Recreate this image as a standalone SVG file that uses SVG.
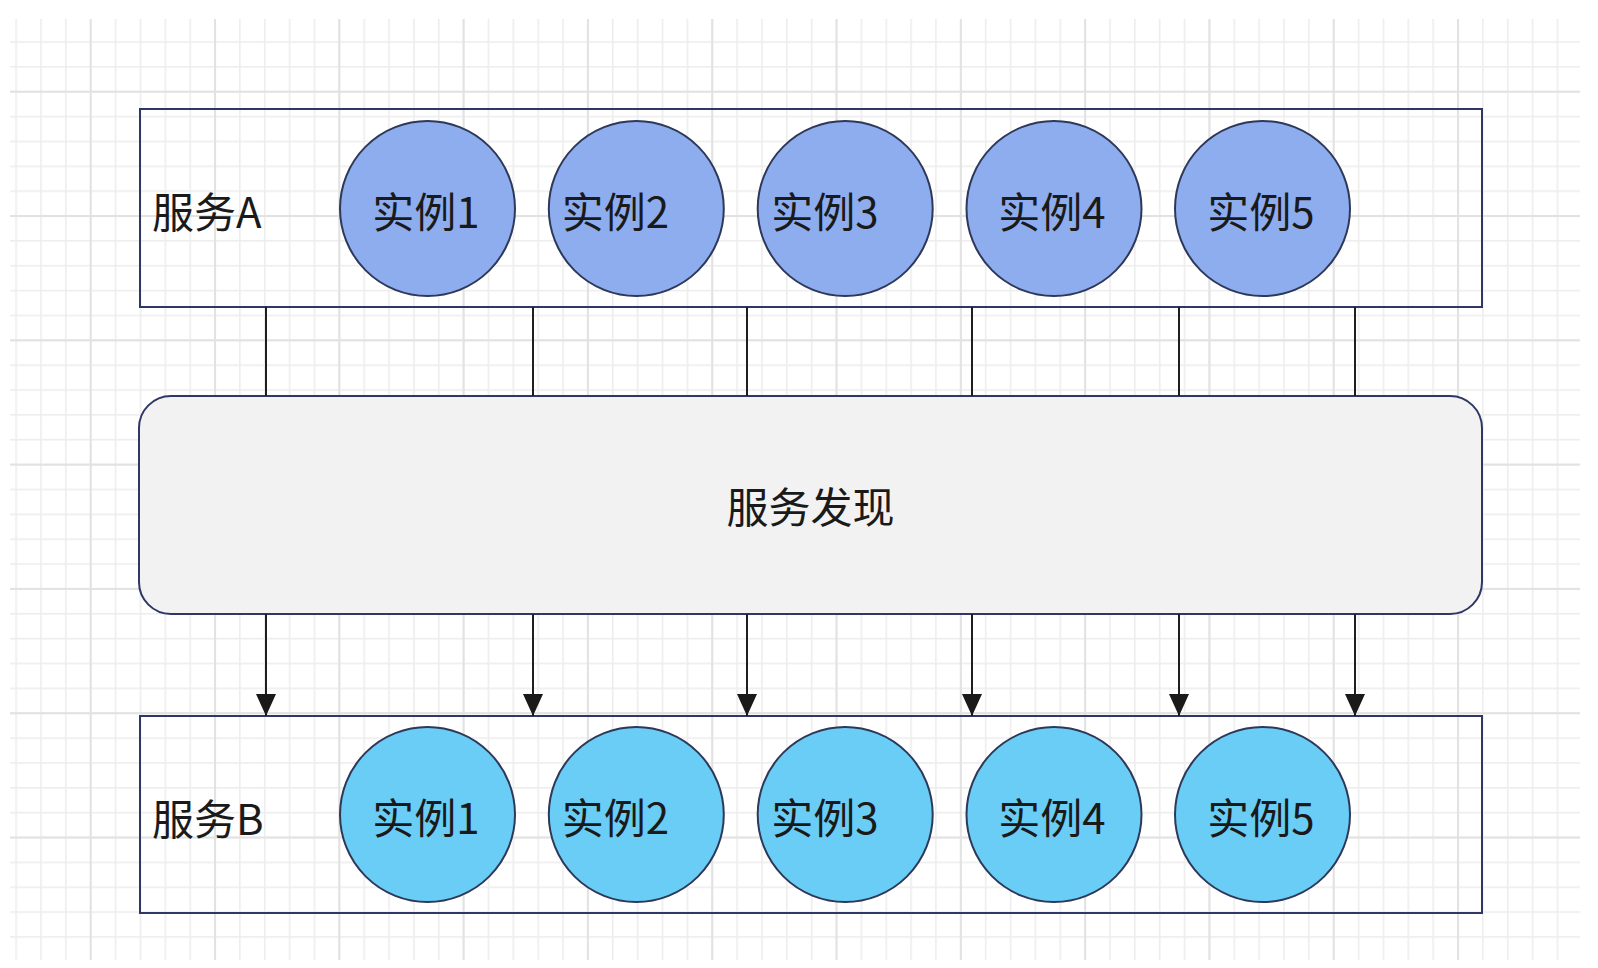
<svg xmlns="http://www.w3.org/2000/svg" width="1598" height="968" viewBox="0 0 1598 968">
<defs>
<pattern id="minor" patternUnits="userSpaceOnUse" x="89.9" y="90.9" width="24.86" height="24.86">
<rect x="0" y="0" width="1.6" height="24.86" fill="#ededed"/>
<rect x="0" y="0" width="24.86" height="1.6" fill="#ededed"/>
</pattern>
<pattern id="major" patternUnits="userSpaceOnUse" x="89.7" y="90.7" width="124.3" height="124.3">
<rect x="0" y="0" width="2" height="124.3" fill="#e2e2e2"/>
<rect x="0" y="0" width="124.3" height="2" fill="#e2e2e2"/>
</pattern>
<marker id="arrow" viewBox="0 0 22 20" refX="22" refY="10" markerWidth="22" markerHeight="20" markerUnits="userSpaceOnUse" orient="auto">
<path d="M0,0 L22,10 L0,20 Z" fill="#1a1a1a"/>
</marker>
<style>
.frame{fill:none;stroke:#2f3764;stroke-width:2}
.ca{fill:#8eadef;stroke:#2e3858;stroke-width:2}
.cb{fill:#6acdf5;stroke:#2e3858;stroke-width:2}
.t{font-family:"Noto Sans CJK SC","Noto Sans",sans-serif;font-size:42px;fill:#1a1a1a}
.m{text-anchor:middle}
.link{stroke:#1e1e1e;stroke-width:2;fill:none}
</style>
</defs>
<rect width="1598" height="968" fill="#ffffff"/>
<rect x="10" y="19" width="1570" height="941" fill="url(#minor)"/>
<rect x="10" y="19" width="1570" height="941" fill="url(#major)"/>

<g id="serviceA">
<rect class="frame" x="140" y="109" width="1342" height="198" fill="none"/>
<text class="t" x="152" y="228">服务A</text>
</g>
<g id="a1"><circle class="ca" cx="427.5" cy="208.5" r="87.5"/><text class="t m" x="426" y="228">实例1</text></g>
<g id="a2"><circle class="ca" cx="636.3" cy="208.5" r="87.5"/><text class="t m" x="615.5" y="228">实例2</text></g>
<g id="a3"><circle class="ca" cx="845.2" cy="208.5" r="87.5"/><text class="t m" x="825" y="228">实例3</text></g>
<g id="a4"><circle class="ca" cx="1054" cy="208.5" r="87.5"/><text class="t m" x="1052" y="228">实例4</text></g>
<g id="a5"><circle class="ca" cx="1262.5" cy="208.5" r="87.5"/><text class="t m" x="1261" y="228">实例5</text></g>

<g id="discovery">
<rect x="139" y="396" width="1343" height="218" rx="32" ry="32" fill="#f2f2f2" stroke="#2f3764" stroke-width="2"/>
<text class="t m" x="810.5" y="523">服务发现</text>
</g>

<g id="serviceB">
<rect class="frame" x="140" y="716" width="1342" height="197"/>
<text class="t" x="152" y="835">服务B</text>
</g>
<g id="b1"><circle class="cb" cx="427.5" cy="814.5" r="87.5"/><text class="t m" x="426" y="834">实例1</text></g>
<g id="b2"><circle class="cb" cx="636.3" cy="814.5" r="87.5"/><text class="t m" x="615.5" y="834">实例2</text></g>
<g id="b3"><circle class="cb" cx="845.2" cy="814.5" r="87.5"/><text class="t m" x="825" y="834">实例3</text></g>
<g id="b4"><circle class="cb" cx="1054" cy="814.5" r="87.5"/><text class="t m" x="1052" y="834">实例4</text></g>
<g id="b5"><circle class="cb" cx="1262.5" cy="814.5" r="87.5"/><text class="t m" x="1261" y="834">实例5</text></g>

<g id="connectors">
<path class="link" d="M266,307 V396"/>
<path class="link" d="M533,307 V396"/>
<path class="link" d="M747,307 V396"/>
<path class="link" d="M972,307 V396"/>
<path class="link" d="M1179,307 V396"/>
<path class="link" d="M1355,307 V396"/>
<path class="link" d="M266,614 V716" marker-end="url(#arrow)"/>
<path class="link" d="M533,614 V716" marker-end="url(#arrow)"/>
<path class="link" d="M747,614 V716" marker-end="url(#arrow)"/>
<path class="link" d="M972,614 V716" marker-end="url(#arrow)"/>
<path class="link" d="M1179,614 V716" marker-end="url(#arrow)"/>
<path class="link" d="M1355,614 V716" marker-end="url(#arrow)"/>
</g>
</svg>
